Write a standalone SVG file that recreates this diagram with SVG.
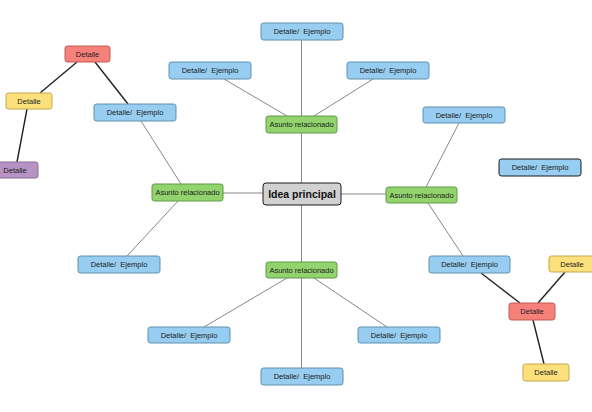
<svg xmlns="http://www.w3.org/2000/svg" width="592" height="412" viewBox="0 0 592 412">
<style>
.n rect{stroke-width:1;}
.blue{fill:#97cdf0;stroke:#5f8fae;}
.green{fill:#92d36e;stroke:#5f9a46;}
.red{fill:#f6817a;stroke:#bf5a55;}
.yellow{fill:#fbe07c;stroke:#c6a64e;}
.purple{fill:#b793c4;stroke:#876a95;}
.main{fill:#d1d1d1;stroke:#1a1a1a;stroke-width:2;}
.thick{stroke:#1a1a1a;stroke-width:2;}
text{font-family:"Liberation Sans",Arial,sans-serif;font-size:7.5px;fill:#1c1c1c;text-anchor:middle;dominant-baseline:central;white-space:pre;}
.big{font-size:10.5px;font-weight:bold;fill:#111;}
.c line{stroke:#7a7a7a;stroke-width:0.9;}
.c line.d{stroke:#222;stroke-width:1.4;}
</style>
<rect width="592" height="412" fill="#ffffff"/>
<g class="c" id="connectors">
<line x1="301.5" y1="40" x2="301.5" y2="116"/>
<line x1="301.5" y1="133" x2="301.5" y2="183"/>
<line x1="301.5" y1="205" x2="301.5" y2="262"/>
<line x1="301.5" y1="278" x2="301.5" y2="368"/>
<line x1="341" y1="194" x2="386" y2="194"/>
<line x1="223" y1="193" x2="263" y2="193"/>
<line x1="224" y1="79" x2="287" y2="116"/>
<line x1="373" y1="79" x2="314" y2="116"/>
<line x1="141" y1="121" x2="181" y2="184"/>
<line x1="178" y1="201" x2="127" y2="256"/>
<line x1="459" y1="123" x2="426" y2="187"/>
<line x1="428" y1="203" x2="463" y2="256"/>
<line x1="287" y1="278" x2="204" y2="327"/>
<line x1="314" y1="278" x2="387" y2="327"/>
<line class="d" x1="77" y1="62" x2="40" y2="93"/>
<line class="d" x1="95" y1="62" x2="128" y2="104"/>
<line class="d" x1="27" y1="109" x2="17" y2="162"/>
<line class="d" x1="481" y1="273" x2="520" y2="303"/>
<line class="d" x1="565" y1="272" x2="538" y2="303"/>
<line class="d" x1="533" y1="320" x2="544" y2="364"/>
</g>
<g class="n" id="main"><rect class="main" x="263" y="183" width="78" height="22" rx="3"/><text class="big" x="302" y="194">Idea principal</text></g>
<g class="n" id="asunto-top"><rect class="green" x="266" y="116" width="71" height="17" rx="2.5"/><text x="301.5" y="124.5">Asunto relacionado</text></g>
<g class="n" id="asunto-right"><rect class="green" x="386" y="187" width="71" height="16" rx="2.5"/><text x="421.5" y="195">Asunto relacionado</text></g>
<g class="n" id="asunto-left"><rect class="green" x="152" y="184" width="71" height="17" rx="2.5"/><text x="187.5" y="192.5">Asunto relacionado</text></g>
<g class="n" id="asunto-bottom"><rect class="green" x="266" y="262" width="71" height="16" rx="2.5"/><text x="301.5" y="270">Asunto relacionado</text></g>
<g class="n" id="det-top"><rect class="blue" x="261" y="23" width="82" height="17" rx="2.5"/><text x="302" y="31.5" xml:space="preserve">Detalle/  Ejemplo</text></g>
<g class="n" id="det-topleft"><rect class="blue" x="169" y="62" width="82" height="17" rx="2.5"/><text x="210" y="70.5" xml:space="preserve">Detalle/  Ejemplo</text></g>
<g class="n" id="det-topright"><rect class="blue" x="347" y="62" width="82" height="17" rx="2.5"/><text x="388" y="70.5" xml:space="preserve">Detalle/  Ejemplo</text></g>
<g class="n" id="det-leftup"><rect class="blue" x="94" y="104" width="82" height="17" rx="2.5"/><text x="135" y="112.5" xml:space="preserve">Detalle/  Ejemplo</text></g>
<g class="n" id="det-leftlow"><rect class="blue" x="78" y="256" width="82" height="17" rx="2.5"/><text x="119" y="264.5" xml:space="preserve">Detalle/  Ejemplo</text></g>
<g class="n" id="det-rightup"><rect class="blue" x="423" y="107" width="82" height="16" rx="2.5"/><text x="464" y="115" xml:space="preserve">Detalle/  Ejemplo</text></g>
<g class="n" id="det-standalone"><rect class="blue thick" x="499" y="159" width="82" height="17" rx="2.5"/><text x="540" y="167.5" xml:space="preserve">Detalle/  Ejemplo</text></g>
<g class="n" id="det-rightlow"><rect class="blue" x="429" y="256" width="81" height="17" rx="2.5"/><text x="469.5" y="264.5" xml:space="preserve">Detalle/  Ejemplo</text></g>
<g class="n" id="det-botleft"><rect class="blue" x="148" y="327" width="82" height="16" rx="2.5"/><text x="189" y="335" xml:space="preserve">Detalle/  Ejemplo</text></g>
<g class="n" id="det-botright"><rect class="blue" x="358" y="327" width="82" height="16" rx="2.5"/><text x="399" y="335" xml:space="preserve">Detalle/  Ejemplo</text></g>
<g class="n" id="det-bottom"><rect class="blue" x="261" y="368" width="82" height="17" rx="2.5"/><text x="302" y="376.5" xml:space="preserve">Detalle/  Ejemplo</text></g>
<g class="n" id="red-left"><rect class="red" x="65" y="46" width="45" height="16" rx="2.5"/><text x="87.5" y="54">Detalle</text></g>
<g class="n" id="yellow-left"><rect class="yellow" x="6" y="93" width="46" height="16" rx="2.5"/><text x="29" y="101">Detalle</text></g>
<g class="n" id="purple-left"><rect class="purple" x="-8" y="162" width="46" height="16" rx="2.5"/><text x="15" y="170">Detalle</text></g>
<g class="n" id="red-right"><rect class="red" x="509" y="303" width="46" height="17" rx="2.5"/><text x="532" y="311.5">Detalle</text></g>
<g class="n" id="yellow-right-top"><rect class="yellow" x="549" y="256" width="46" height="16" rx="2.5"/><text x="572" y="264">Detalle</text></g>
<g class="n" id="yellow-right-bottom"><rect class="yellow" x="523" y="364" width="46" height="17" rx="2.5"/><text x="546" y="372.5">Detalle</text></g>
</svg>
